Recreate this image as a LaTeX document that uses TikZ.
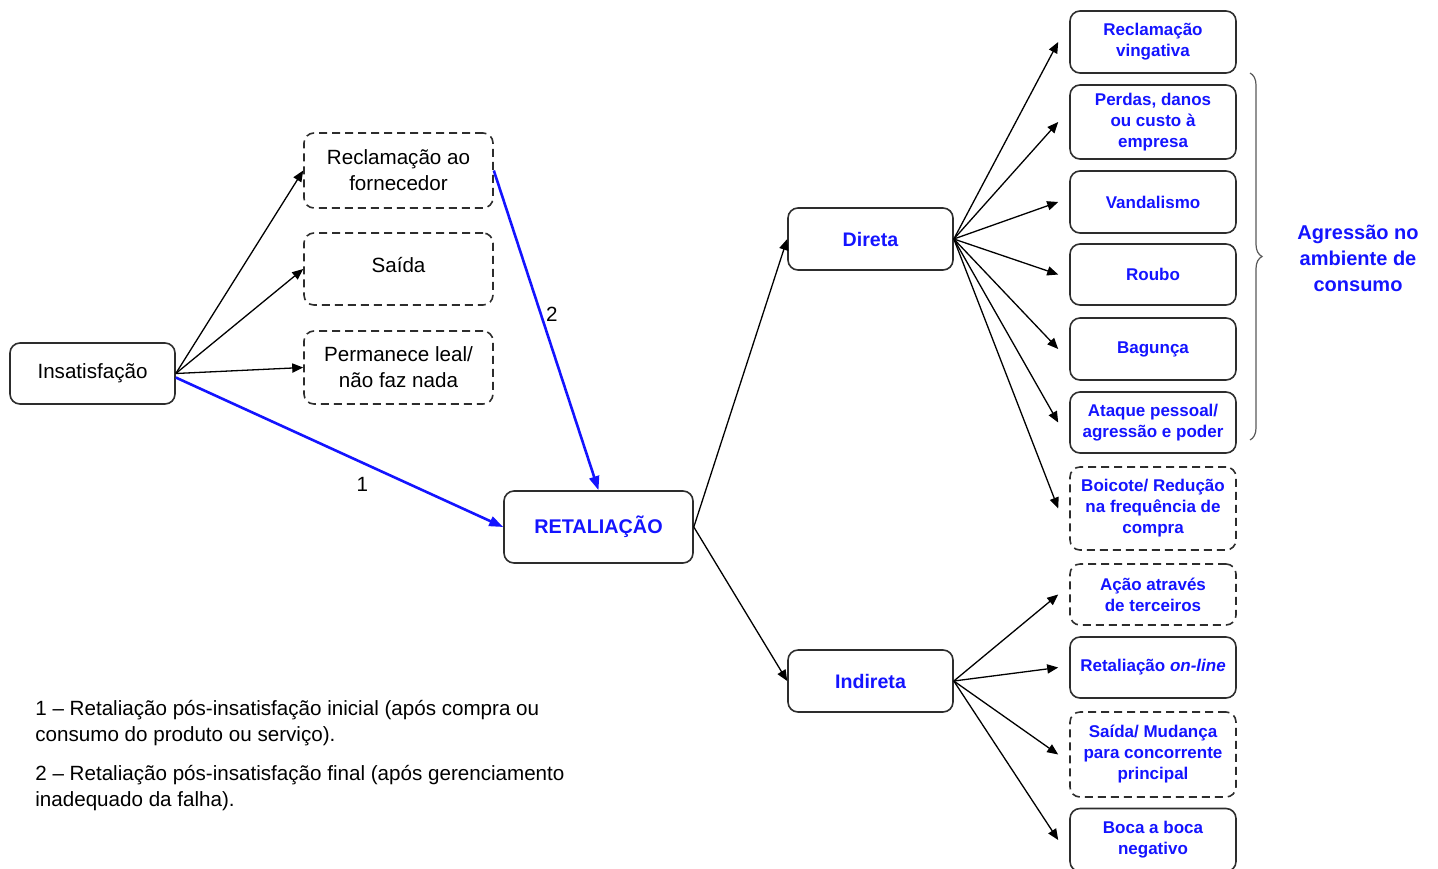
\documentclass[tikz,border=0pt]{standalone}
\usepackage{fontspec}
\setmainfont{Liberation Sans}
\usetikzlibrary{arrows.meta,decorations.pathreplacing}
\definecolor{myblue}{RGB}{20,20,255}
\definecolor{boxline}{RGB}{45,45,45}
\begin{document}
\begin{tikzpicture}[x=0.5pt,y=-0.5pt,
  box/.style={draw=boxline, line width=0.8pt, rounded corners=5pt, align=center, inner sep=0pt},
  dbox/.style={box, dash pattern=on 4pt off 2.5pt},
  blk/.style={font=\fontsize{10.3}{13}\selectfont},
  bl/.style={text=myblue, font=\fontsize{8.5}{10.5}\selectfont\bfseries},
  big/.style={text=myblue, font=\fontsize{9.8}{12}\selectfont\bfseries},
  lbox/.style={box, blk, minimum width=94.5pt},
  rbox/.style={box, bl, minimum width=83pt},
  rdbox/.style={dbox, bl, minimum width=83pt},
  arr/.style={-{Triangle[length=5.5pt,width=4.6pt]}, line width=0.65pt},
  barr/.style={-{Triangle[length=7pt,width=5pt]}, line width=1.3pt, myblue},
  lab/.style={blk, text=black, inner sep=0pt}
]
\useasboundingbox (0,0) rectangle (1438,868);

% left nodes
\node[box, blk, minimum width=82.5pt, minimum height=30.5pt] (ins) at (92.5,373.5) {Insatisfação};
\node[dbox, lbox, minimum height=37.5pt] (rec) at (398.5,170.5) {Reclamação ao\\fornecedor};
\node[dbox, lbox, minimum height=36pt, text depth=4pt] (sai) at (398.5,269) {Saída};
\node[dbox, lbox, minimum height=36.5pt] (perm) at (398.5,367.5) {Permanece leal/\\não faz nada};

% middle
\node[box, big, font=\fontsize{9.9}{12}\selectfont\bfseries, minimum width=94.5pt, minimum height=36pt] (ret) at (598.5,527) {RETALIAÇÃO};
\node[box, big, minimum width=82.5pt, minimum height=31pt] (dir) at (870.5,239) {Direta};
\node[box, big, minimum width=82.5pt, minimum height=31pt] (ind) at (870.5,681) {Indireta};

% right column
\node[rbox, minimum height=31pt] (r1) at (1153,42) {Reclamação\\vingativa};
\node[rbox, minimum height=37pt] (r2) at (1153,122) {Perdas, danos\\ou custo à\\empresa};
\node[rbox, minimum height=31pt] (r3) at (1153,202) {Vandalismo};
\node[rbox, minimum height=30.5pt] (r4) at (1153,274.5) {Roubo};
\node[rbox, minimum height=31pt] (r5) at (1153,349) {Bagunça};
\node[rbox, minimum height=30.5pt] (r6) at (1153,422.5) {Ataque pessoal/\\agressão e poder};
\node[rdbox, minimum height=41.5pt] (r7) at (1153,508.5) {Boicote/ Redução\\na frequência de\\compra};
\node[rdbox, minimum height=30.5pt] (r8) at (1153,594.5) {Ação através\\de terceiros};
\node[rbox, minimum height=30.5pt] (r9) at (1153,667.5) {Retaliação \textit{on-line}};
\node[rdbox, minimum height=42.5pt] (r10) at (1153,754.5) {Saída/ Mudança\\para concorrente\\principal};
\node[rbox, minimum height=31.5pt] (r11) at (1153,840) {Boca a boca\\negativo};

% brace and label
\draw[decorate, decoration={brace, amplitude=6pt}, draw=black!65, line width=0.6pt] (1250,73) -- (1250,440);
\node[big, font=\fontsize{10}{13}\selectfont\bfseries, align=center] (agr) at (1358,258) {Agressão no\\ambiente de\\consumo};

% notes
\node[blk, align=left, anchor=north west, inner sep=0pt] (n1) at (35,700) {1 – Retaliação pós-insatisfação inicial (após compra ou\\consumo do produto ou serviço).};
\node[blk, align=left, anchor=north west, inner sep=0pt] (n2) at (35,765) {2 – Retaliação pós-insatisfação final (após gerenciamento\\inadequado da falha).};

% connectors
\draw[arr] (ins.east) -- (rec.west);
\draw[arr] (ins.east) -- (sai.west);
\draw[arr] (ins.east) -- (perm.west);
\draw[barr] ([yshift=-2pt]ins.east) -- node[lab, pos=0.57, yshift=-11pt] {1} (ret.west);
\draw[barr] (rec.east) -- node[lab, pos=0.45, xshift=5.5pt] {2} (ret.north);
\draw[arr] (ret.east) -- (dir.west);
\draw[arr] (ret.east) -- (ind.west);
\foreach \n in {r1,r2,r3,r4,r5,r6,r7}
  \draw[arr] (dir.east) -- ([xshift=-5.5pt]\n.west);
\foreach \n in {r8,r9,r10,r11}
  \draw[arr] (ind.east) -- ([xshift=-5.5pt]\n.west);
\end{tikzpicture}
\end{document}
